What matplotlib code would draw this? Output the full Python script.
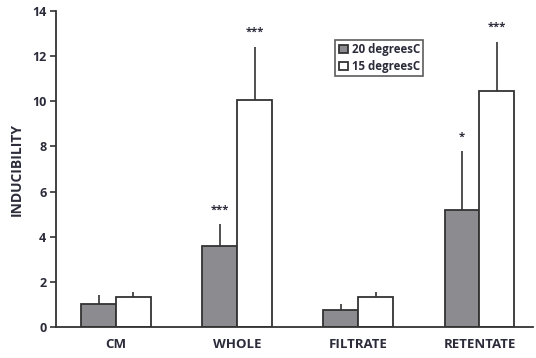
import numpy as np
import matplotlib
matplotlib.use('Agg')
import matplotlib.pyplot as plt

plt.rcParams['font.family'] = ['Open Sans', 'DejaVu Sans']

categories = ['CM', 'WHOLE', 'FILTRATE', 'RETENTATE']
vals_20 = [1.02, 3.6, 0.74, 5.18]
err_20 = [0.40, 0.95, 0.26, 2.6]
vals_15 = [1.33, 10.07, 1.33, 10.46]
err_15 = [0.23, 2.35, 0.23, 2.18]
stars_20 = ['', '***', '', '*']
stars_15 = ['', '***', '', '***']

x = np.arange(len(categories))
w = 0.288
txt = '#2b2b3a'

fig = plt.figure(figsize=(5.36, 3.58), dpi=100)
ax = fig.add_axes([0.1045, 0.0866, 0.8895, 0.8824])

ax.bar(x - w/2, vals_20, w, color='#8c8c90', edgecolor='#333333', linewidth=1.3,
       label='20 degreesC', zorder=2)
ax.bar(x + w/2, vals_15, w, color='white', edgecolor='#333333', linewidth=1.3,
       label='15 degreesC', zorder=2)
# upper-only error bars, no caps
ax.errorbar(x - w/2, vals_20, yerr=[np.zeros(4), err_20], fmt='none',
            ecolor='#333333', elinewidth=1.2, capsize=0, zorder=1)
ax.errorbar(x + w/2, vals_15, yerr=[np.zeros(4), err_15], fmt='none',
            ecolor='#333333', elinewidth=1.2, capsize=0, zorder=1)

for i in range(len(categories)):
    if stars_20[i]:
        ax.text(x[i] - w/2, vals_20[i] + err_20[i] + 0.4, stars_20[i],
                ha='center', va='bottom', fontsize=8, color=txt, fontweight='bold')
    if stars_15[i]:
        ax.text(x[i] + w/2, vals_15[i] + err_15[i] + 0.4, stars_15[i],
                ha='center', va='bottom', fontsize=8, color=txt, fontweight='bold')

ax.set_xlim(-0.495, 3.44)
ax.set_ylim(0, 14)
ax.set_yticks(range(0, 15, 2))
ax.set_xticks(x)
ax.set_xticklabels(categories)
ax.tick_params(axis='x', length=0, pad=8)
ax.tick_params(axis='y', direction='out', length=4, width=1.2, color='#333333', pad=3)
for lab in ax.get_yticklabels():
    lab.set_fontweight('bold')
    lab.set_fontsize(9)
    lab.set_color(txt)
for lab in ax.get_xticklabels():
    lab.set_fontweight('bold')
    lab.set_fontsize(9.5)
    lab.set_color(txt)
ax.set_ylabel('INDUCIBILITY', fontsize=10, fontweight='bold', color=txt, labelpad=6)

for s in ['top', 'right']:
    ax.spines[s].set_visible(False)
for s in ['left', 'bottom']:
    ax.spines[s].set_linewidth(1.3)
    ax.spines[s].set_color('#333333')

leg = ax.legend(loc='upper left', bbox_to_anchor=(0.586, 0.91), fontsize=8.3,
                frameon=True, fancybox=False, edgecolor='#333333',
                handlelength=0.8, handleheight=0.8, handletextpad=0.3,
                borderpad=0.3, labelspacing=0.35, borderaxespad=0)
leg.get_frame().set_linewidth(1.2)
for t in leg.get_texts():
    t.set_fontweight('bold')
    t.set_color(txt)

fig.savefig('out.png', dpi=100)
